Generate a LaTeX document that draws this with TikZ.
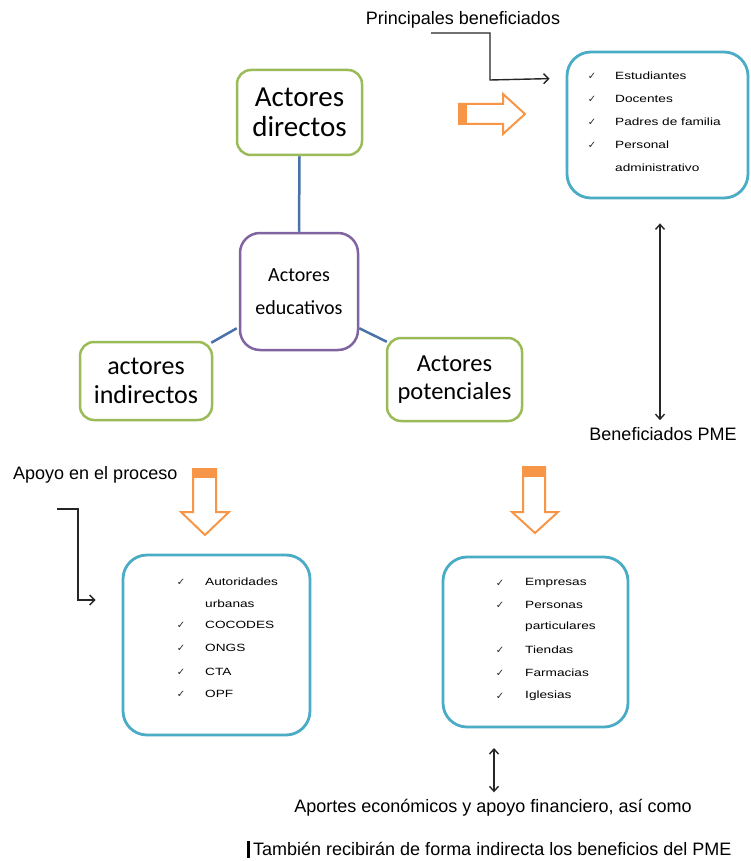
\documentclass[tikz,border=0pt]{standalone}
\usepackage{fontspec}
\setmainfont{Liberation Sans}
\newfontfamily\calfont{Carlito}
\newfontfamily\itemfont[FakeStretch=1.3]{Liberation Sans}
\newfontfamily\symfont{DejaVu Sans}
\usetikzlibrary{arrows.meta,calc}
\definecolor{cgreen}{HTML}{9BBB59}
\definecolor{cpurple}{HTML}{8064A2}
\definecolor{cblue}{HTML}{4A72A8}
\definecolor{ccyan}{HTML}{4BACC6}
\definecolor{corange}{HTML}{F79646}
\begin{document}
\begin{tikzpicture}[x=1pt,y=-1pt,
  greenbox/.style={draw=cgreen, line width=2.5pt, rounded corners=14pt, fill=white,
    inner sep=0pt, align=center},
  purplebox/.style={draw=cpurple, line width=2.5pt, rounded corners=20pt, fill=white,
    inner sep=0pt, align=center, font=\calfont\fontsize{20}{33}\selectfont},
  cyanbox/.style={draw=ccyan, line width=2.8pt, rounded corners=24pt, fill=white, inner sep=0pt},
  linkline/.style={draw=cblue, line width=2.5pt},
  blackarrow/.style={draw=black!85, line width=1.4pt, -{Straight Barb[length=5pt,width=10pt]}},
  dblarrow/.style={draw=black!85, line width=1.4pt, {Straight Barb[length=5pt,width=9pt]}-{Straight Barb[length=5pt,width=9pt]}},
  orangearrow/.style={draw=corange, line width=2pt, fill=white, line join=miter},
  label/.style={inner sep=0pt, font=\fontsize{18}{20}\selectfont},
  item/.style={anchor=west, inner sep=0pt, font=\itemfont\fontsize{10.5}{12}\selectfont},
  tick/.style={inner sep=0pt, font=\symfont\fontsize{10}{11}\selectfont, text=black!85},
]
\useasboundingbox[fill=white] (0,0) rectangle (750,861);

% central concept map
\node[greenbox, minimum width=125pt, minimum height=85pt,
      font=\calfont\fontsize{29}{30}\selectfont] (dir) at (299.5,112.5) {Actores\\directos};
\node[purplebox, minimum width=118pt, minimum height=117pt] (edu) at (299,291.5) {Actores\\educativos};
\node[greenbox, minimum width=132pt, minimum height=78pt,
      font=\calfont\fontsize{26}{29}\selectfont] (ind) at (146,381) {actores\\indirectos};
\node[greenbox, minimum width=135pt, minimum height=83pt,
      font=\calfont\fontsize{24.5}{28}\selectfont] (pot) at (454.5,379.5) {Actores\\potenciales};

\draw[linkline] (dir.south) -- (edu.north);
\draw[linkline] ($(edu.south west)+(-2,-23)$) -- ($(ind.north east)+(-2,2)$);
\draw[linkline] ($(edu.south east)+(0,-23)$) -- ($(pot.north west)+(1,5)$);

% top right box
\node[cyanbox, minimum width=181pt, minimum height=146pt] (tr) at (657.5,125) {};
\foreach \y/\t in {76/Estudiantes, 99/Docentes, 122/Padres de familia, 145/Personal} {
  \node[tick] at (592,\y) {✓};
  \node[item] at (615,\y) {\t};
}
\node[item] (tradm) at (615,168) {administrativo};

\node[label] (pb) at (463,20) {Principales beneficiados};
\coordinate (pbs) at (431,33);
\draw[blackarrow] (pbs) -| (490,80) -- ($(tr.north west)+(-16,28)$);

% orange right arrow
\draw[orangearrow] (459,104) -- (503,104) -- (503,94) -- (525,114) -- (503,134) -- (503,124) -- (459,124) -- cycle;
\fill[corange] (459,104) rectangle (467,124);

% Beneficiados PME
\node[label] (bpme) at (663,434) {Beneficiados PME};
\draw[dblarrow] ($(tr.south)+(2.5,24)$) -- ($(bpme.north)+(-3,-7)$);

% bottom left box
\node[cyanbox, minimum width=187pt, minimum height=180pt] (bl) at (216.5,645) {};
\node[tick] at (181,582) {✓}; \node[item] at (205,582) {Autoridades};
\node[item] at (205,604) {urbanas};
\foreach \y/\t in {625/COCODES, 648/ONGS, 672/CTA, 694/OPF} {
  \node[tick] at (181,\y) {✓};
  \node[item] at (205,\y) {\t};
}
\node[label, anchor=west] (apo) at (13,475) {Apoyo en el proceso};
\coordinate (apos) at (57,509);
\draw[blackarrow] (apos) -| (78,600) -- ($(bl.west)+(-26,-45)$);

% orange down arrows
\draw[orangearrow] (193,469) -- (216,469) -- (216,512) -- (229,512) -- (205,535) -- (181,512) -- (193,512) -- cycle;
\fill[corange] (193,469) rectangle (216,478);
\draw[orangearrow] (523,467) -- (545,467) -- (545,512) -- (558,512) -- (535,533) -- (512,512) -- (523,512) -- cycle;
\fill[corange] (523,467) rectangle (545,477);

% bottom right box
\node[cyanbox, minimum width=185pt, minimum height=170pt] (br) at (535.5,642) {};
\node[tick] at (500,583) {✓}; \node[item] at (525,583) {Empresas};
\node[tick] at (500,605) {✓}; \node[item] at (525,605) {Personas};
\node[item] at (525,627) {particulares};
\foreach \y/\t in {650/Tiendas, 673/Farmacias, 696/Iglesias} {
  \node[tick] at (500,\y) {✓};
  \node[item] at (525,\y) {\t};
}

% bottom texts
\node[label] (aport) at (493,808) {Aportes económicos y apoyo financiero, así como};
\draw[dblarrow] (494,748) -- ($(aport.north)+(1,-7)$);
\node[label, anchor=west] (tamb) at (253,849) {También recibirán de forma indirecta los beneficios del PME};
\fill[black] (247,841) rectangle (250,858);
\end{tikzpicture}
\end{document}
